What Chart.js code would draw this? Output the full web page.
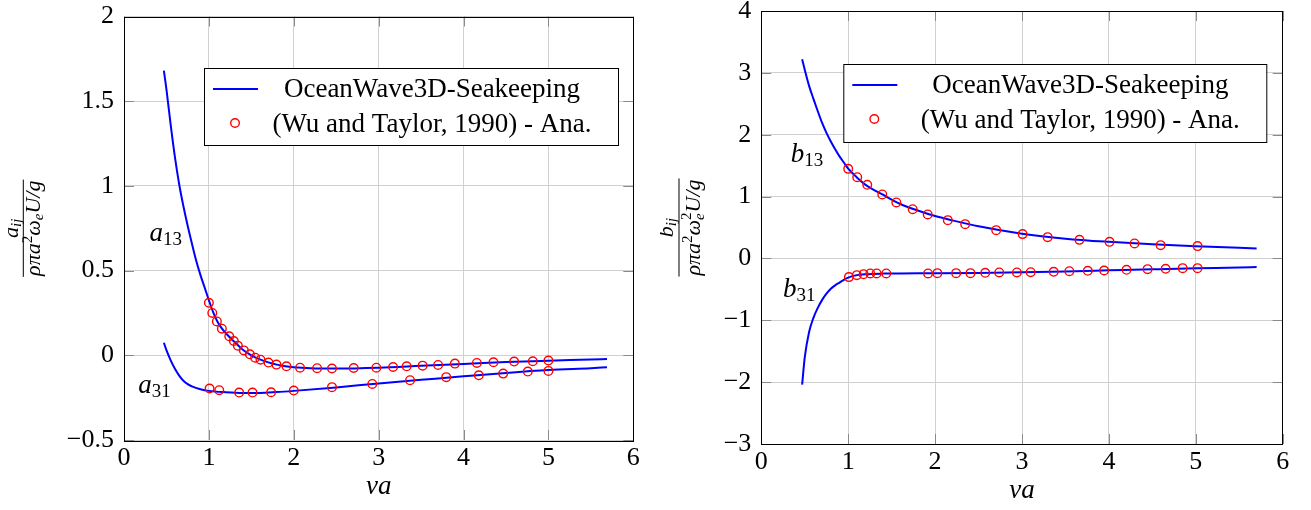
<!DOCTYPE html>
<html>
<head>
<meta charset="utf-8">
<script src="https://cdn.jsdelivr.net/npm/chart.js@4.4.0/dist/chart.umd.min.js"></script>
<style>
  body { margin: 0; background: #fff; width: 1311px; height: 510px; overflow: hidden; position: relative; }
  .panel { position: absolute; top: 0; height: 510px; }
</style>
</head>
<body>
<div class="panel" style="left:0;width:660px"><canvas id="addedMassChart"></canvas></div>
<div class="panel" style="left:660px;width:651px"><canvas id="dampingChart"></canvas></div>
<script>
// legend names
const seriesNames = ['OceanWave3D-Seakeeping', '(Wu and Taylor, 1990) - Ana.'];

// a13 - OceanWave3D curve
const a13LineX = [0.47, 0.5, 0.55, 0.6, 0.65, 0.7, 0.75, 0.8, 0.85, 0.9, 0.95, 1.0, 1.05, 1.1, 1.15, 1.2, 1.3, 1.4, 1.5, 1.6, 1.7, 1.8, 1.9, 2.0, 2.2, 2.5, 3.0, 3.5, 4.0, 4.5, 5.0, 5.5, 5.69];
const a13LineY = [1.68, 1.57, 1.36, 1.17, 1.01, 0.88, 0.765, 0.66, 0.56, 0.475, 0.40, 0.325, 0.255, 0.20, 0.16, 0.13, 0.08, 0.033, 0.0, -0.024, -0.042, -0.055, -0.064, -0.07, -0.076, -0.078, -0.073, -0.062, -0.051, -0.04, -0.032, -0.025, -0.022];
// a13 - Wu and Taylor
const a13DotX = [1.0, 1.04, 1.094, 1.153, 1.24, 1.294, 1.341, 1.412, 1.482, 1.545, 1.608, 1.702, 1.796, 1.914, 2.074, 2.275, 2.45, 2.706, 2.973, 3.17, 3.33, 3.518, 3.70, 3.898, 4.157, 4.353, 4.596, 4.816, 5.0];
const a13DotY = [0.31, 0.25, 0.20, 0.157, 0.112, 0.084, 0.057, 0.029, 0.006, -0.014, -0.026, -0.043, -0.055, -0.065, -0.073, -0.076, -0.078, -0.075, -0.073, -0.069, -0.065, -0.061, -0.057, -0.049, -0.045, -0.041, -0.037, -0.035, -0.031];

// a31
const a31LineX = [0.47, 0.5, 0.55, 0.6, 0.65, 0.7, 0.75, 0.8, 0.9, 1.0, 1.2, 1.4, 1.6, 1.8, 2.0, 2.5, 3.0, 3.5, 4.0, 4.5, 5.0, 5.5, 5.69];
const a31LineY = [0.074, 0.03, -0.03, -0.08, -0.12, -0.15, -0.17, -0.183, -0.2, -0.21, -0.218, -0.222, -0.222, -0.217, -0.21, -0.19, -0.166, -0.145, -0.124, -0.104, -0.087, -0.076, -0.071];
const a31DotX = [1.008, 1.122, 1.357, 1.514, 1.733, 2.0, 2.45, 2.925, 3.37, 3.796, 4.18, 4.467, 4.757, 5.0];
const a31DotY = [-0.196, -0.206, -0.22, -0.22, -0.218, -0.208, -0.188, -0.169, -0.147, -0.129, -0.118, -0.108, -0.096, -0.092];

// b13
const b13LineX = [0.47, 0.5, 0.55, 0.6, 0.65, 0.7, 0.75, 0.8, 0.85, 0.9, 0.95, 1.0, 1.1, 1.2, 1.4, 1.6, 1.8, 2.0, 2.2, 2.5, 3.0, 3.5, 4.0, 4.5, 5.0, 5.5, 5.7];
const b13LineY = [3.22, 3.05, 2.79, 2.58, 2.38, 2.19, 2.03, 1.89, 1.765, 1.65, 1.55, 1.45, 1.31, 1.19, 1.03, 0.88, 0.775, 0.685, 0.615, 0.52, 0.40, 0.32, 0.268, 0.228, 0.197, 0.172, 0.162];
const b13DotX = [1.0, 1.104, 1.219, 1.392, 1.554, 1.742, 1.915, 2.146, 2.346, 2.703, 3.007, 3.295, 3.661, 4.007, 4.295, 4.595, 5.02];
const b13DotY = [1.448, 1.313, 1.19, 1.034, 0.905, 0.796, 0.711, 0.619, 0.554, 0.457, 0.393, 0.344, 0.30, 0.268, 0.242, 0.215, 0.199];

// b31
const b31LineX = [0.47, 0.5, 0.55, 0.6, 0.65, 0.7, 0.75, 0.8, 0.85, 0.9, 0.95, 1.0, 1.1, 1.2, 1.4, 1.6, 2.0, 2.5, 3.0, 3.5, 4.0, 4.5, 5.0, 5.5, 5.7];
const b31LineY = [-2.04, -1.60, -1.19, -0.96, -0.80, -0.67, -0.57, -0.49, -0.435, -0.39, -0.345, -0.31, -0.27, -0.255, -0.245, -0.242, -0.24, -0.234, -0.224, -0.21, -0.193, -0.176, -0.16, -0.147, -0.14];
const b31DotX = [1.008, 1.10, 1.177, 1.254, 1.327, 1.438, 1.919, 2.026, 2.242, 2.407, 2.577, 2.738, 2.941, 3.1, 3.365, 3.545, 3.757, 3.945, 4.203, 4.445, 4.653, 4.849, 5.02];
const b31DotY = [-0.302, -0.27, -0.254, -0.243, -0.243, -0.243, -0.243, -0.238, -0.238, -0.238, -0.232, -0.227, -0.227, -0.222, -0.216, -0.206, -0.2, -0.195, -0.184, -0.173, -0.168, -0.157, -0.157];

const FONT = '"Liberation Serif", "Times New Roman", serif';
const BLUE = '#0000ff';
const RED = '#ff0000';

const pts = (xs, ys) => xs.map((x, i) => ({ x, y: ys[i] }));
const minus = v => (v < 0 ? '\u2212' + Math.abs(v) : String(v));

const curve = (xs, ys) => ({
  data: pts(xs, ys), showLine: true, pointRadius: 0, borderColor: BLUE, borderWidth: 2,
  cubicInterpolationMode: 'monotone'
});
const dots = (xs, ys) => ({
  data: pts(xs, ys), showLine: false, pointRadius: 4.3, pointBorderWidth: 1.4,
  pointBorderColor: RED, pointBackgroundColor: 'rgba(0,0,0,0)'
});

// draws a list of text pieces (font / vertical shift) one after the other
function drawParts(ctx, parts, x, y, align) {
  const widths = parts.map(p => { ctx.font = p.f; return p.adv !== undefined ? p.adv : ctx.measureText(p.t).width; });
  const total = widths.reduce((a, b) => a + b, 0);
  let cx = align === 'center' ? x - total / 2 : x;
  ctx.textAlign = 'left';
  ctx.textBaseline = 'alphabetic';
  parts.forEach((p, i) => { ctx.font = p.f; ctx.fillText(p.t, cx, y + (p.dy || 0)); cx += widths[i]; });
  return total;
}
const partsWidth = (ctx, parts) => parts.reduce((s, p) => { ctx.font = p.f; return s + (p.adv !== undefined ? p.adv : ctx.measureText(p.t).width); }, 0);

const it = s => `italic ${s}px ${FONT}`;
const rm = s => `${s}px ${FONT}`;

const decoPlugin = {
  id: 'deco',
  beforeDatasetsDraw(chart, args, o) {
    const { ctx, chartArea: a, scales: { x, y } } = chart;
    ctx.save();
    ctx.strokeStyle = '#8a8a8a';
    ctx.lineWidth = 1;
    ctx.beginPath();
    x.ticks.forEach(t => {
      const px = Math.round(x.getPixelForValue(t.value)) + 0.5;
      ctx.moveTo(px, a.bottom); ctx.lineTo(px, a.bottom - 10);
      ctx.moveTo(px, a.top); ctx.lineTo(px, a.top + 10);
    });
    y.ticks.forEach(t => {
      const py = Math.round(y.getPixelForValue(t.value)) + 0.5;
      ctx.moveTo(a.left, py); ctx.lineTo(a.left + 10, py);
      ctx.moveTo(a.right, py); ctx.lineTo(a.right - 10, py);
    });
    ctx.stroke();
    ctx.strokeStyle = '#000';
    ctx.strokeRect(Math.round(a.left) + 0.5, Math.round(a.top) + 0.5, Math.round(a.width), Math.round(a.height));
    ctx.restore();
  },
  afterDatasetsDraw(chart, args, o) {
    const { ctx, chartArea: a, scales: { x, y } } = chart;
    ctx.save();
    ctx.fillStyle = '#000';

    // curve labels
    o.labels.forEach(l => {
      drawParts(ctx, [{ t: l.main, f: it(27) }, { t: l.sub, f: rm(19), dy: 4 }],
        x.getPixelForValue(l.x), y.getPixelForValue(l.y), 'left');
    });

    // legend
    const L = o.legend;
    ctx.fillStyle = '#fff';
    ctx.fillRect(L.x, L.y, L.w, L.h);
    ctx.strokeStyle = '#000';
    ctx.lineWidth = 1;
    ctx.strokeRect(L.x + 0.5, L.y + 0.5, L.w, L.h);
    ctx.strokeStyle = BLUE;
    ctx.lineWidth = 2;
    ctx.beginPath();
    ctx.moveTo(L.x + 9, L.y + 21); ctx.lineTo(L.x + 54, L.y + 21);
    ctx.stroke();
    ctx.strokeStyle = RED;
    ctx.lineWidth = 1.4;
    ctx.beginPath();
    ctx.arc(L.x + 31, L.y + 55, 4.3, 0, Math.PI * 2);
    ctx.stroke();
    ctx.fillStyle = '#000';
    ctx.font = rm(27);
    ctx.textAlign = 'center';
    ctx.textBaseline = 'alphabetic';
    ctx.fillText(seriesNames[0], L.x + L.w - 186, L.y + 29);
    ctx.fillText(seriesNames[1], L.x + L.w - 186, L.y + 64);

    // x title
    drawParts(ctx, [{ t: '\u03bda', f: it(27) }], (a.left + a.right) / 2, a.bottom + 54, 'center');

    // y title (fraction, rotated)
    const T = o.yTitle;
    ctx.translate(T.lineX, (a.top + a.bottom) / 2);
    ctx.rotate(-Math.PI / 2);
    const len = Math.max(partsWidth(ctx, T.num), partsWidth(ctx, T.den)) + 2;
    drawParts(ctx, T.num, 0, T.numBase, 'center');
    drawParts(ctx, T.den, 0, T.denBase, 'center');
    ctx.fillRect(-len / 2, -0.5, len, 1);
    ctx.restore();
  }
};

function buildChart(id, cfg) {
  const tickFont = { family: FONT, size: 26 };
  return new Chart(document.getElementById(id), {
    type: 'scatter',
    data: { datasets: cfg.datasets },
    options: {
      responsive: true,
      maintainAspectRatio: false,
      animation: false,
      layout: { padding: cfg.padding },
      plugins: { legend: { display: false }, tooltip: { enabled: false }, deco: cfg.deco },
      scales: {
        x: {
          type: 'linear', min: 0, max: 6,
          afterFit: s => { s.height = cfg.xHeight; },
          ticks: { stepSize: 1, color: '#000', font: tickFont, padding: 3, maxRotation: 0, callback: minus },
          grid: { color: '#d0d0d0', drawTicks: false },
          border: { display: false }
        },
        y: {
          min: cfg.yMin, max: cfg.yMax,
          afterFit: s => { s.width = cfg.yWidth; s.paddingTop = 0; s.paddingBottom = 0; },
          ticks: { stepSize: cfg.yStep, color: '#000', font: tickFont, padding: 10, callback: minus },
          grid: { color: '#d0d0d0', drawTicks: false },
          border: { display: false }
        }
      }
    },
    plugins: [decoPlugin]
  });
}

buildChart('addedMassChart', {
  datasets: [dots(a13DotX, a13DotY), dots(a31DotX, a31DotY), curve(a13LineX, a13LineY), curve(a31LineX, a31LineY)],
  padding: { left: 0, top: 16.5, right: 26.7, bottom: 0 },
  xHeight: 70, yWidth: 124,
  yMin: -0.5, yMax: 2, yStep: 0.5,
  deco: {
    legend: { x: 204, y: 68, w: 414, h: 77 },
    labels: [{ x: 0.3, y: 0.672, main: 'a', sub: '13' }, { x: 0.168, y: -0.225, main: 'a', sub: '31' }],
    yTitle: {
      lineX: 23.3, numBase: -5, denBase: 17,
      num: [{ t: 'a', f: it(22) }, { t: 'ij', f: it(15), dy: 3 }],
      den: [{ t: '\u03c1\u03c0a', f: it(22) }, { t: '2', f: rm(15), dy: -8 }, { t: '\u03c9', f: it(22) },
            { t: 'e', f: it(15), dy: 3 }, { t: 'U/g', f: it(22) }]
    }
  }
});

buildChart('dampingChart', {
  datasets: [dots(b13DotX, b13DotY), dots(b31DotX, b31DotY), curve(b13LineX, b13LineY), curve(b31LineX, b31LineY)],
  padding: { left: 0, top: 11, right: 28.3, bottom: 0 },
  xHeight: 66, yWidth: 101.3,
  yMin: -3, yMax: 4, yStep: 1,
  deco: {
    legend: { x: 183.3, y: 64, w: 423, h: 78 },
    labels: [{ x: 0.338, y: 1.56, main: 'b', sub: '13' }, { x: 0.25, y: -0.62, main: 'b', sub: '31' }],
    yTitle: {
      lineX: 19, numBase: -6, denBase: 21,
      num: [{ t: 'b', f: it(22) }, { t: 'ij', f: it(15), dy: 3 }],
      den: [{ t: '\u03c1\u03c0a', f: it(22) }, { t: '2', f: rm(15), dy: -8 }, { t: '\u03c9', f: it(22) },
            { t: 'e', f: it(15), dy: 4, adv: 0 }, { t: '2', f: rm(15), dy: -9 }, { t: 'U/g', f: it(22) }]
    }
  }
});
</script>
</body>
</html>
